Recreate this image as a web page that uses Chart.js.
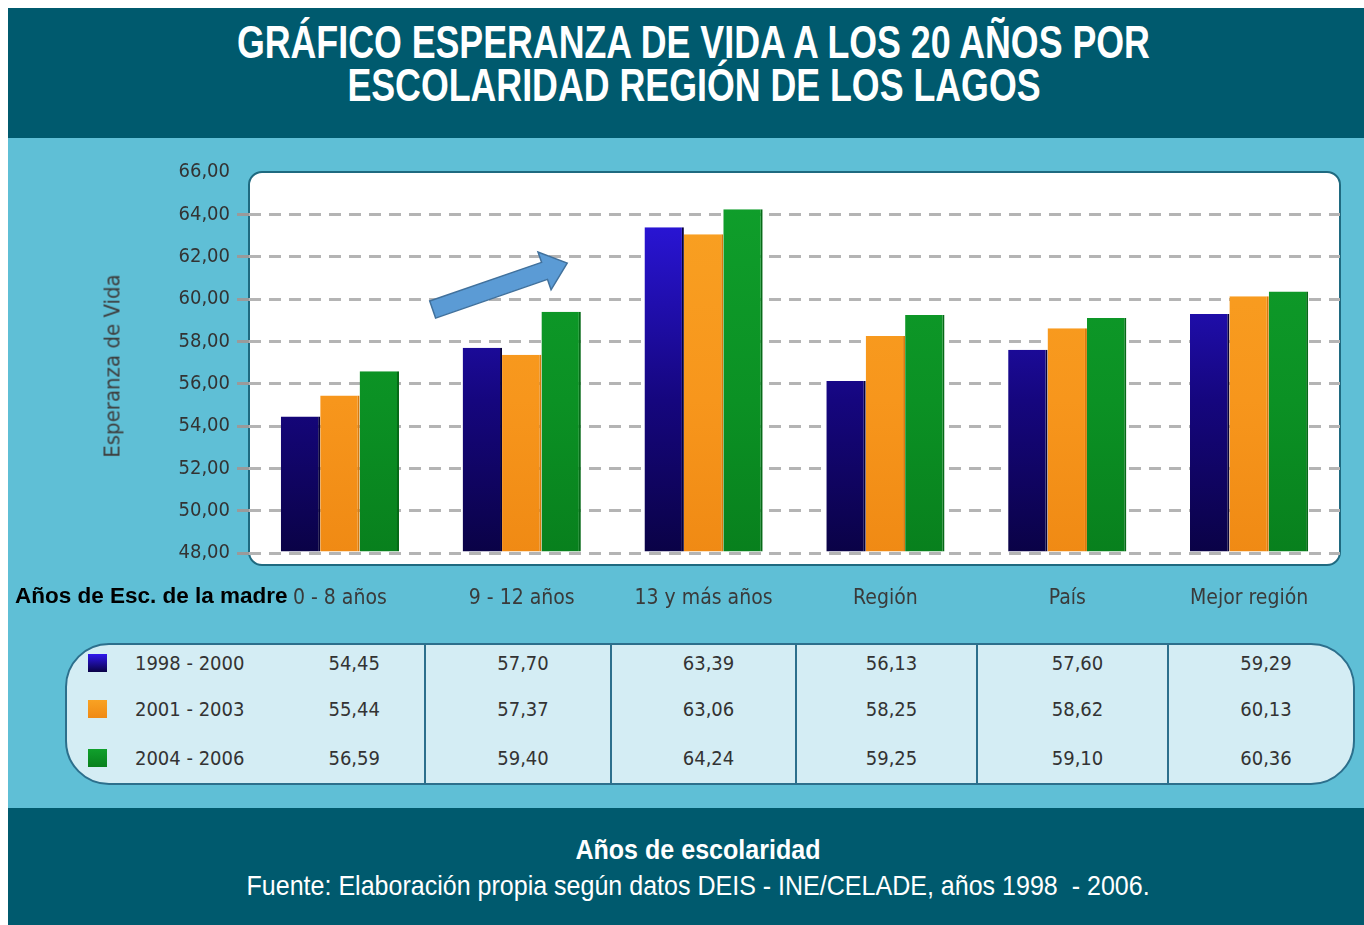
<!DOCTYPE html>
<html>
<head>
<meta charset="utf-8">
<script src="https://cdn.jsdelivr.net/npm/chart.js@4.4.0/dist/chart.umd.min.js"></script>
<style>
  body { margin: 0; background: #fff; width: 1364px; height: 925px; overflow: hidden; position: relative;
         font-family: 'DejaVu Sans Condensed', 'Liberation Sans', Arial, sans-serif; }
  .band { position: absolute; left: 8px; width: 1356px; background: #005a6e; color: #fff; text-align: center;
          font-family: 'Liberation Sans', Arial, sans-serif; }
  .fit { display: inline-block; white-space: nowrap; transform-origin: 50% 50%; }
  #top { top: 8px; height: 130px; }
  #title { margin-top: 13px; padding-left: 15px; font-weight: bold; font-size: 46px; line-height: 43px; }
  #mid { position: absolute; left: 8px; top: 138px; width: 1356px; height: 670px; background: #5fbfd6; }
  #bottom { top: 808px; height: 117px; }
  #foot1 { margin-top: 26px; padding-left: 24px; font-weight: bold; font-size: 28px; line-height: 32px; }
  #foot2 { padding-left: 24px; font-size: 28px; line-height: 40px; }
  #wrap { position: absolute; left: 8px; top: 138px; width: 1356px; height: 482px; }
  #ytitle { position: absolute; left: 112px; top: 366px; transform: translate(-50%, -50%) rotate(-90deg);
            white-space: nowrap; font-size: 22px; color: #3d3d3d; }
  #rowtitle { position: absolute; left: 15px; top: 583px; font-family: 'Liberation Sans', Arial, sans-serif;
              font-weight: bold; font-size: 22.5px; color: #000; white-space: nowrap; }
  #box { position: absolute; left: 65px; top: 643px; width: 1290px; height: 142px; box-sizing: border-box;
         border: 2px solid #2c6f8c; border-radius: 44px; background: #d4edf4; overflow: hidden; }
  #tbl { border-collapse: collapse; table-layout: fixed; width: 1286px; margin-top: -5px; }
  #tbl td { box-sizing: border-box; padding: 0 0 0 10px; text-align: center; font-size: 20px; color: #333;
            border-left: 2px solid #2c6f8c; }
  #tbl td.c0 { border-left: none; padding: 0; text-align: left; }
  #tbl tr { height: 46px; }
  #tbl tr.last { height: 51px; }
  .c0w { display: flex; align-items: center; }
  .sw { width: 19px; height: 18px; margin-left: 21px; }
  .lab { margin-left: 28px; width: 150px; }
  .v0 { width: 140px; text-align: center; }
</style>
</head>
<body>
<div id="top" class="band"><div id="title"><span class="fit" id="t1">GRÁFICO ESPERANZA DE VIDA A LOS 20 AÑOS POR</span><br><span class="fit" id="t2">ESCOLARIDAD REGIÓN DE LOS LAGOS</span></div></div>
<div id="mid"></div>
<div id="wrap"><canvas id="chart" width="1356" height="482"></canvas></div>
<div id="ytitle">Esperanza de Vida</div>
<div id="rowtitle">Años de Esc. de la madre</div>
<div id="box"><table id="tbl"></table></div>
<div id="bottom" class="band">
  <div id="foot1"><span class="fit" id="f1">Años de escolaridad</span></div>
  <div id="foot2"><span class="fit" id="f2">Fuente: Elaboración propia según datos DEIS - INE/CELADE, años 1998&nbsp; - 2006.</span></div>
</div>
<script>
// datos
var categories = ['0 - 8 años', '9 - 12 años', '13 y más años', 'Región', 'País', 'Mejor región'];
var periods = ['1998 - 2000', '2001 - 2003', '2004 - 2006'];
var values1998 = [54.45, 57.70, 63.39, 56.13, 57.60, 59.29];
var values2001 = [55.44, 57.37, 63.06, 58.25, 58.62, 60.13];
var values2004 = [56.59, 59.40, 64.24, 59.25, 59.10, 60.36];
var yMin = 48, yMax = 66, yStep = 2;
// flecha (en unidades de datos: indice de categoria, valor)
var arrowFrom = [0.51, 59.5];
var arrowTo = [1.25, 61.7];

var series = [values1998, values2001, values2004];
var colors = [
    ['#2f19ee', '#15067e', '#0a0246'],
    ['#f9a223', '#f7961c', '#f08a14'],
    ['#10a02c', '#0b9124', '#08801d']
];
var edges = ['#08023a', '#d97a0c', '#066a17'];

function fmt(v) {
    return v.toFixed(2).replace('.', ',');
}

// texto angosto como en el original
function fitWidth(id, target) {
    var el = document.getElementById(id);
    var w = el.getBoundingClientRect().width;
    el.style.transform = 'scaleX(' + (target / w).toFixed(3) + ')';
}
var t1w = document.getElementById('t1').getBoundingClientRect().width;
var k = 913 / t1w;
document.getElementById('t1').style.transform = 'scaleX(' + k + ')';
document.getElementById('t2').style.transform = 'scaleX(' + k + ')';
fitWidth('f1', 245);
fitWidth('f2', 903);

// tabla
var html = '';
var widths = [358, 186, 185, 181, 191, 185];
for (let i = 0; i < periods.length; i++) {
    html += '<tr' + (i == periods.length - 1 ? ' class="last"' : '') + '>';
    html += '<td class="c0" style="width:' + widths[0] + 'px"><div class="c0w"><span class="sw" style="background:linear-gradient(' +
        colors[i][0] + ',' + colors[i][2] + ')"></span><span class="lab">' + periods[i] + '</span><span class="v0">' +
        fmt(series[i][0]) + '</span></div></td>';
    for (let j = 1; j < categories.length; j++) {
        html += '<td style="width:' + widths[j] + 'px">' + fmt(series[i][j]) + '</td>';
    }
    html += '</tr>';
}
document.getElementById('tbl').innerHTML = html;

function barFill(i) {
    return function (ctx) {
        var area = ctx.chart.chartArea;
        if (!area) return colors[i][1];
        var g = ctx.chart.ctx.createLinearGradient(0, area.top, 0, area.bottom);
        g.addColorStop(0, colors[i][0]);
        g.addColorStop(0.6, colors[i][1]);
        g.addColorStop(1, colors[i][2]);
        return g;
    };
}

// caja blanca detras del grafico
const panel = {
    id: 'panel',
    beforeDraw(chart) {
        const c = chart.ctx, a = chart.chartArea;
        c.save();
        c.beginPath();
        c.roundRect(a.left, a.top, a.right - a.left, a.bottom - a.top + 12, 13);
        c.fillStyle = '#ffffff';
        c.fill();
        c.lineWidth = 2;
        c.strokeStyle = '#1f6a80';
        c.stroke();
        c.restore();
    }
};

const arrow = {
    id: 'arrow',
    afterDatasetsDraw(chart) {
        const x = chart.scales.x, y = chart.scales.y, c = chart.ctx;
        const x0 = x.getPixelForValue(arrowFrom[0]), y0 = y.getPixelForValue(arrowFrom[1]);
        const x1 = x.getPixelForValue(arrowTo[0]), y1 = y.getPixelForValue(arrowTo[1]);
        const len = Math.hypot(x1 - x0, y1 - y0), ang = Math.atan2(y1 - y0, x1 - x0);
        const sh = 9, hh = 20, hl = 24;
        c.save();
        c.translate(x0, y0);
        c.rotate(ang);
        c.beginPath();
        c.moveTo(0, -sh);
        c.lineTo(len - hl, -sh);
        c.lineTo(len - hl, -hh);
        c.lineTo(len, 0);
        c.lineTo(len - hl, hh);
        c.lineTo(len - hl, sh);
        c.lineTo(0, sh);
        c.closePath();
        c.fillStyle = '#5b9bd5';
        c.fill();
        c.lineWidth = 1.5;
        c.strokeStyle = '#41719c';
        c.stroke();
        c.restore();
    }
};

const datasets = periods.map((p, i) => ({
    label: p,
    data: series[i],
    backgroundColor: barFill(i),
    borderColor: edges[i],
    borderWidth: { right: 2, top: 0, left: 0, bottom: 0 },
    borderSkipped: false,
    base: yMin,
    barPercentage: 1,
    categoryPercentage: 0.65
}));

const fam = "'DejaVu Sans Condensed', Arial, sans-serif";

new Chart(document.getElementById('chart'), {
    type: 'bar',
    data: { labels: categories, datasets: datasets },
    options: {
        responsive: false,
        animation: false,
        layout: { padding: { top: 34, right: 24, bottom: 7, left: 0 } },
        plugins: { legend: { display: false }, tooltip: { enabled: false } },
        scales: {
            x: {
                grid: { display: false, drawTicks: false },
                border: { display: false },
                ticks: { color: '#3a3a3a', font: { family: fam, size: 21 }, padding: 33, maxRotation: 0 },
                afterFit(s) { s.height = 60; }
            },
            y: {
                min: yMin,
                max: yMax,
                ticks: { stepSize: yStep, color: '#333', font: { family: fam, size: 20 }, padding: 7, callback: (v) => fmt(v) },
                grid: {
                    color: (ctx) => ctx.tick && ctx.tick.value == yMax ? 'rgba(0,0,0,0)' : '#b4b4b4',
                    lineWidth: 3,
                    tickLength: 12,
                    tickColor: (ctx) => ctx.tick && ctx.tick.value == yMax ? 'rgba(0,0,0,0)' : '#9a9a9a'
                },
                border: { display: false, dash: [12, 8] },
                afterFit(s) { s.width = 241; }
            }
        }
    },
    plugins: [panel, arrow]
});
</script>
</body>
</html>
